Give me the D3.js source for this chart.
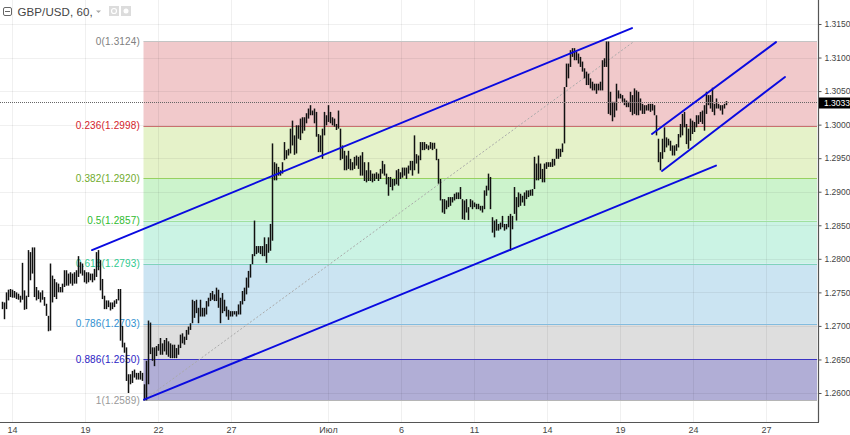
<!DOCTYPE html>
<html>
<head>
<meta charset="utf-8">
<style>
  html, body { margin: 0; padding: 0; background: #fff; overflow: hidden; }
  text { font-family: "Liberation Sans", Arial, sans-serif; }
</style>
<script src="https://cdn.jsdelivr.net/npm/d3@7"></script>
</head>
<body>
<svg id="chart"></svg>
<script>
const width = 850;
const height = 435;

// bar highs and lows, in 0.0001 price units, one bar per slot
const highs = [
  12736,12735,12750,12754,12755,12754,12752,12750,12748,12745,12794,12753,12745,12813,12810,12817,12817,
  12758,12753,12750,12753,12743,12733,12715,12793,12775,12770,12765,12763,12758,12763,12783,12783,12778,12780,12778,12780,12783,
  12804,12795,12793,12783,12780,12780,12778,12778,12785,12810,12813,12798,12770,12745,12738,12738,12735,12735,12738,12740,12755,
  12755,12700,12675,12668,12628,12628,12633,12635,12630,12630,12633,12630,12613,12648,12708,12705,12668,12668,12670,12673,
  12682,12674,12679,12682,12677,12674,12672,12672,12667,12672,12687,12689,12684,12694,12699,12704,12739,12737,12739,12727,
  12739,12727,12727,12737,12742,12749,12752,12747,12757,12754,12742,12749,12739,12729,12724,12722,12722,12722,12722,12732,
  12737,12752,12757,12772,12782,12792,12807,12857,12819,12819,12819,12819,12832,12822,12832,12852,12972,12944,12942,
  12937,12932,12944,12974,12962,12964,12994,13006,12984,12999,12999,13009,13011,13011,13017,13024,13029,13021,13024,13019,
  12986,12984,12994,13019,13014,13029,13019,13011,13009,13001,13021,12994,12969,12961,12954,12961,12949,12944,12952,12954,
  12952,12954,12959,12944,12932,12944,12932,12927,12927,12929,12927,12934,12946,12941,12927,12922,12922,12919,12919,12932,
  12934,12929,12936,12936,12936,12939,12946,12946,12984,12956,12954,12974,12974,12974,12971,12969,
  12974,12973,12973,12964,12949,12919,12889,12889,12887,12892,12892,12892,12897,12899,12899,12907,12889,12887,12889,12877,
  12889,12887,12884,12882,12882,12879,12879,12902,12909,12927,12922,12862,12857,12859,12852,12854,12864,12852,12852,12864,
  12867,12864,12907,12892,12899,12897,12894,12899,12902,12902,12903,12904,12952,12942,12954,12942,12934,12942,12944,12944,
  12944,12949,12949,12964,12964,12964,12972,13056,
  13091,13091,13111,13114,13114,13109,13106,13101,13094,13084,13079,13076,13069,13064,13061,13061,13061,13064,13096,13099,
  13124,13124,13049,13034,13034,13061,13051,13046,13044,13039,13036,13034,13049,13044,13054,13051,13049,13039,13031,13029,
  13029,13031,13031,13031,13029,13014,
  12979,12959,12979,12996,12981,12979,12976,12969,12969,12971,12986,13001,13016,13019,13001,12994,13009,13006,13004,13014,
  13014,13019,13021,13029,13049,13044,13044,13055,13031,13039,13031,13029,13029,13031,13035
];
const lows = [
  12725,12710,12725,12738,12743,12742,12742,12740,12739,12735,12739,12724,12725,12743,12768,12778,12743,
  12738,12740,12735,12739,12730,12715,12692,12693,12735,12743,12740,12750,12750,12750,12758,12760,12760,12763,12760,12763,12763,
  12773,12778,12775,12765,12763,12765,12768,12765,12768,12773,12783,12753,12740,12725,12725,12728,12723,12725,12728,12733,12738,
  12678,12668,12660,12618,12600,12613,12615,12623,12620,12620,12620,12618,12589,12589,12613,12658,12648,12640,12655,12663,
  12657,12657,12662,12657,12654,12652,12652,12652,12652,12657,12667,12674,12672,12679,12687,12694,12704,12712,12719,12704,
  12714,12714,12714,12717,12729,12737,12739,12737,12737,12727,12704,12719,12722,12714,12709,12714,12714,12717,12714,12717,
  12717,12732,12737,12747,12757,12772,12792,12804,12807,12809,12807,12804,12804,12794,12809,12812,12827,12917,12917,
  12924,12924,12927,12947,12949,12954,12957,12969,12955,12957,12979,12977,12987,12991,13002,13009,13014,13014,13002,12982,
  12959,12959,12949,12984,12999,13004,13002,12999,12997,12992,12994,12947,12949,12932,12932,12934,12932,12932,12934,12939,
  12934,12924,12924,12916,12914,12916,12916,12914,12916,12919,12916,12919,12927,12924,12911,12894,12907,12902,12909,12911,
  12909,12919,12921,12924,12919,12927,12932,12924,12932,12942,12927,12947,12962,12962,12964,12962,
  12964,12962,12964,12947,12912,12887,12869,12867,12874,12877,12879,12884,12887,12889,12889,12889,12859,12858,12869,12858,
  12877,12874,12877,12874,12874,12872,12869,12874,12894,12902,12874,12839,12832,12842,12842,12844,12847,12842,12844,12847,
  12812,12844,12867,12857,12877,12879,12884,12879,12889,12892,12894,12894,12904,12917,12917,12919,12914,12914,12934,12937,
  12937,12937,12939,12949,12949,12952,12959,12972,
  13056,13069,13086,13101,13096,13096,13091,13086,13079,13069,13059,13059,13054,13051,13051,13046,13051,13051,13051,13086,
  13086,13016,13014,13005,13011,13021,13039,13039,13034,13029,13026,13026,13019,13014,13016,13014,13014,13021,13016,13016,
  13021,13021,13019,13021,13014,12984,
  12944,12932,12949,12959,12966,12969,12961,12954,12954,12961,12966,12981,12984,12996,12971,12964,12976,12986,12989,12996,
  13001,13004,13001,12991,13016,13029,13024,13019,13014,13024,13024,13021,13015,13024,13029
];

const lastPrice = 1.3033;

// time axis, bar slot of each label
const tickSlots = [6, 42.5, 79, 115.5, 164, 200.5, 237, 273.5, 310, 346.5, 383];
const tickLabels = ["14", "19", "22", "27", "Июл", "6", "11", "14", "19", "24", "27"];

const priceTicks = [1.26, 1.265, 1.27, 1.275, 1.28, 1.285, 1.29, 1.295, 1.3, 1.305, 1.31, 1.315];

// fibonacci retracement
const fibRatios = ["0", "0.236", "0.382", "0.5", "0.618", "0.786", "0.886", "1"];
const fibPrices = [1.3124, 1.2998, 1.2920, 1.2857, 1.2793, 1.2703, 1.2650, 1.2589];
const fibFills = ["#f1c9cb", "#e5f2c9", "#ccf3cc", "#cbf3e4", "#cbe4f2", "#dedede", "#b1aed6"];
const fibLines = ["#c4c4c4", "#c9706e", "#97d160", "#9fe09f", "#7fd3bb", "#82bcdf", "#3a33c4", "#b5b5b5"];
const fibTexts = ["#808080", "#d4222c", "#70ab2d", "#30bb30", "#30c98f", "#3090d0", "#2b22c4", "#999999"];
const fibStartSlot = 71.75;

// trend lines: [slot, price, slot, price]
const trendLines = [
  [46, 1.2813, 316, 1.3144],
  [72, 1.2590, 358, 1.2939],
  [326, 1.2986, 388, 1.3123],
  [331, 1.2931, 392.5, 1.3071]
];
const fibDiagonal = [71.75, 1.2589, 317, 1.3124];

const plotRight = 818;
const plotBottom = 422;

const x = d3.scaleLinear().domain([0, 425]).range([0, width]);
const y = d3.scaleLinear().domain([1.26, 1.315]).range([393, 24]);

const svg = d3.select("#chart").attr("width", width).attr("height", height);

// Fib bands
const fibLeft = x(fibStartSlot);
const fibRight = plotRight - 1;

svg.append("g").selectAll("rect")
  .data(fibFills)
  .enter().append("rect")
  .attr("x", fibLeft)
  .attr("width", fibRight - fibLeft)
  .attr("y", (d, i) => y(fibPrices[i]))
  .attr("height", (d, i) => y(fibPrices[i + 1]) - y(fibPrices[i]))
  .attr("fill", d => d);

// Grid
const grid = svg.append("g").attr("stroke", "#000").attr("stroke-opacity", 0.06);
grid.selectAll("line.v")
  .data(tickSlots)
  .enter().append("line")
  .attr("x1", d => Math.round(x(d)) + 0.5)
  .attr("x2", d => Math.round(x(d)) + 0.5)
  .attr("y1", 0)
  .attr("y2", plotBottom);
grid.selectAll("line.h")
  .data(priceTicks)
  .enter().append("line")
  .attr("x1", 0)
  .attr("x2", plotRight)
  .attr("y1", d => Math.round(y(d)) + 0.5)
  .attr("y2", d => Math.round(y(d)) + 0.5);

// Fib levels and labels
svg.append("g").selectAll("line")
  .data(fibPrices)
  .enter().append("line")
  .attr("x1", fibLeft)
  .attr("x2", fibRight)
  .attr("y1", d => Math.round(y(d)) + 0.5)
  .attr("y2", d => Math.round(y(d)) + 0.5)
  .attr("stroke", (d, i) => fibLines[i])
  .attr("stroke-width", 1.2);

svg.append("g").selectAll("text")
  .data(fibPrices)
  .enter().append("text")
  .attr("x", 140)
  .attr("y", d => y(d) + 3.5)
  .attr("text-anchor", "end")
  .attr("font-size", 10)
  .attr("letter-spacing", 0.15)
  .attr("fill", (d, i) => fibTexts[i])
  .text((d, i) => `${fibRatios[i]}(${d.toFixed(4)})`);

// Diagonal of the fib tool
svg.append("line")
  .attr("x1", x(fibDiagonal[0]))
  .attr("y1", y(fibDiagonal[1]))
  .attr("x2", x(fibDiagonal[2]))
  .attr("y2", y(fibDiagonal[3]))
  .attr("stroke", "#aaa")
  .attr("stroke-width", 1)
  .attr("stroke-dasharray", "2,2");

// Bars
svg.append("g").selectAll("line")
  .data(highs)
  .enter().append("line")
  .attr("x1", (d, i) => x(i + 1) + 0.5)
  .attr("x2", (d, i) => x(i + 1) + 0.5)
  .attr("y1", d => y(d / 10000))
  .attr("y2", (d, i) => y(lows[i] / 10000))
  .attr("stroke", "#111")
  .attr("stroke-width", 1.5);

// Last price line
svg.append("line")
  .attr("x1", 0)
  .attr("x2", plotRight)
  .attr("y1", Math.round(y(lastPrice)) + 0.5)
  .attr("y2", Math.round(y(lastPrice)) + 0.5)
  .attr("stroke", "#666")
  .attr("stroke-dasharray", "1,1");

// Trend lines
svg.append("g").selectAll("line")
  .data(trendLines)
  .enter().append("line")
  .attr("x1", d => x(d[0]))
  .attr("y1", d => y(d[1]))
  .attr("x2", d => x(d[2]))
  .attr("y2", d => y(d[3]))
  .attr("stroke", "#0a0ae0")
  .attr("stroke-width", 1.9)
  .attr("stroke-linecap", "round");

// Axes
const rightAxis = d3.axisRight(y)
  .tickValues(priceTicks)
  .tickFormat(d3.format(".4f"))
  .tickSize(3)
  .tickPadding(3);
const rightG = svg.append("g")
  .attr("transform", `translate(${plotRight + 0.5},0)`)
  .call(rightAxis);
rightG.select(".domain").remove();
rightG.selectAll("line").attr("stroke", "#555");
rightG.selectAll("text")
  .attr("fill", "#444")
  .style("font-size", "8.5px")
  .style("font-family", "\"Liberation Sans\", Arial, sans-serif");
rightG.append("line")
  .attr("y1", 0)
  .attr("y2", plotBottom)
  .attr("stroke", "#555")
  .attr("stroke-width", 1.2);

const bottomAxis = d3.axisBottom(x)
  .tickValues(tickSlots)
  .tickFormat((d, i) => tickLabels[i])
  .tickSize(0)
  .tickPadding(4);
const bottomG = svg.append("g")
  .attr("transform", `translate(0,${plotBottom + 0.5})`)
  .call(bottomAxis);
bottomG.select(".domain").remove();
bottomG.selectAll("text")
  .attr("fill", "#444")
  .style("font-size", "9px")
  .style("font-family", "\"Liberation Sans\", Arial, sans-serif");
bottomG.append("line")
  .attr("x1", 0)
  .attr("x2", plotRight + 1)
  .attr("stroke", "#555")
  .attr("stroke-width", 1.2);

// Last price tag
svg.append("rect")
  .attr("x", plotRight + 1)
  .attr("y", y(lastPrice) - 5)
  .attr("width", width - plotRight - 1)
  .attr("height", 11)
  .attr("fill", "#000");
svg.append("text")
  .attr("x", plotRight + 6)
  .attr("y", y(lastPrice) + 3.5)
  .attr("font-size", 8.5)
  .attr("fill", "#fff")
  .text(lastPrice.toFixed(4));

// Header
const header = svg.append("g");
header.append("rect")
  .attr("x", 3.5).attr("y", 7.5).attr("width", 8).attr("height", 8).attr("rx", 1.5)
  .attr("fill", "none").attr("stroke", "#666");
header.append("line")
  .attr("x1", 5).attr("x2", 10).attr("y1", 11.5).attr("y2", 11.5)
  .attr("stroke", "#666");
header.append("text")
  .attr("x", 17.5).attr("y", 16)
  .attr("font-size", 11.5)
  .attr("letter-spacing", 0.1)
  .attr("fill", "#444")
  .text("GBP/USD, 60,");
header.append("path")
  .attr("d", "M96,10.5h5l-2.5,2.5z")
  .attr("fill", "#aaa");
header.append("rect")
  .attr("x", 109).attr("y", 6).attr("width", 10).attr("height", 10)
  .attr("fill", "#dcdcdc");
header.append("circle")
  .attr("cx", 114).attr("cy", 11).attr("r", 2.5)
  .attr("fill", "none").attr("stroke", "#fff").attr("stroke-width", 1.2);
header.append("rect")
  .attr("x", 121).attr("y", 6).attr("width", 10).attr("height", 10)
  .attr("fill", "#dcdcdc");
header.append("circle")
  .attr("cx", 126).attr("cy", 11).attr("r", 2.5)
  .attr("fill", "#fff");
</script>
</body>
</html>
